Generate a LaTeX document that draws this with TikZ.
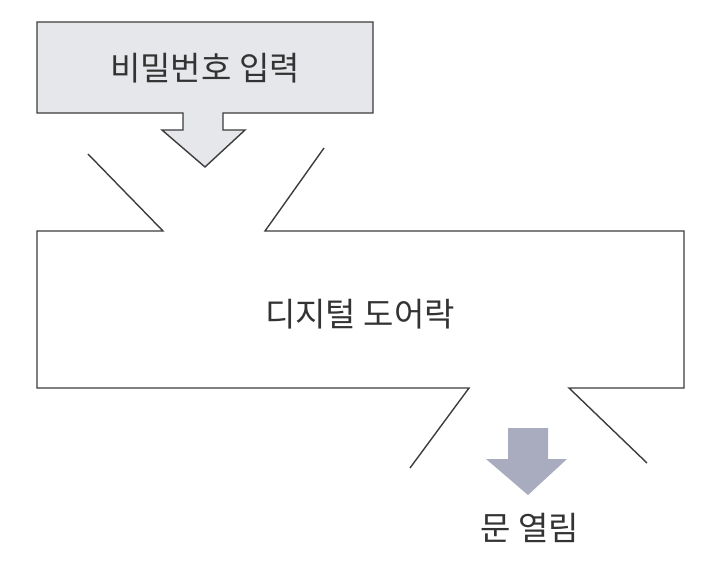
\documentclass[tikz,border=0pt]{standalone}
\usepackage{fontspec}
\newfontfamily\kr{Noto Sans CJK KR}
\definecolor{linec}{HTML}{3C3C3C}
\definecolor{boxfill}{HTML}{E6E7EA}
\definecolor{arrowfill}{HTML}{A9ACBE}
\definecolor{txt}{HTML}{333333}
\begin{document}
\begin{tikzpicture}[x=1pt,y=-1pt,
  outline/.style={draw=linec,line width=1.4pt,line join=miter},
  label/.style={font=\kr\fontsize{33}{38}\selectfont,text=txt,inner sep=0pt}]
\useasboundingbox (0,0) rectangle (716,566);
% input box with arrow
\draw[outline,fill=boxfill] (37,22) -- (373,22) -- (373,113) -- (223,113) -- (223,130) -- (245,130)
  -- (205,167) -- (162,130) -- (183,130) -- (183,113) -- (37,113) -- cycle;
\node[label] (input) at (205,68) {비밀번호 입력};
% digital door lock funnel box
\draw[outline] (88,154) -- (163,231) -- (37,231) -- (37,388) -- (469,388) -- (410,468);
\draw[outline] (324,148) -- (265,231) -- (684,231) -- (684,388) -- (569,388) -- (647,463);
\node[label] (lock) at (360,314) {디지털 도어락};
% output arrow
\fill[arrowfill] (508,428) -- (548,428) -- (548,459) -- (567,459) -- (528,495) -- (486,459) -- (508,459) -- cycle;
\node[label] (open) at (530,528) {문 열림};
\end{tikzpicture}
\end{document}
